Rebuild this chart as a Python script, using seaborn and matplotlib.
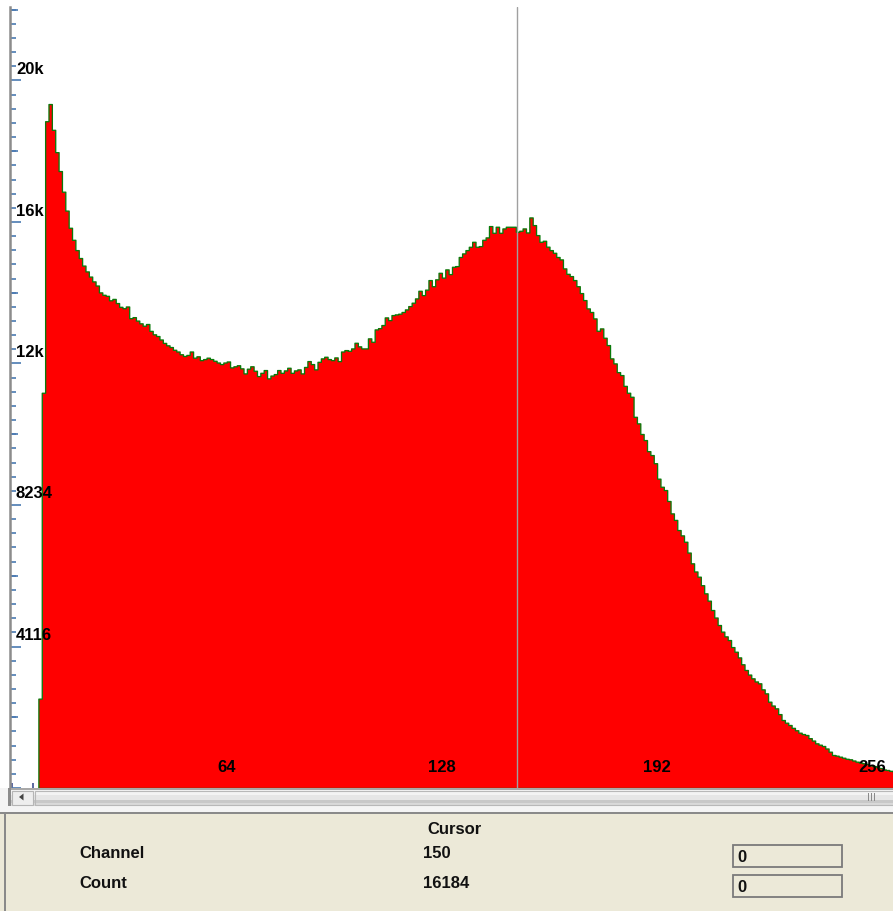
import numpy as np
import pandas as pd
import matplotlib
matplotlib.use("Agg")
import matplotlib.pyplot as plt
import matplotlib.transforms as mtransforms
from matplotlib.patches import Rectangle, Polygon
from matplotlib.ticker import MultipleLocator, FixedLocator
import seaborn as sns

# ---------------- data ----------------
first_channel = 8
counts = [
    2600, 11500, 19400, 19900, 19150, 18500, 17950, 17350, 16800, 16300,   # 8-17
    15950, 15650, 15420, 15200, 15030, 14880, 14740, 14620, 14420, 14350,  # 18-27
    14320, 14190, 14230, 14110, 14000, 13960, 14010, 13670, 13700, 13600,  # 28-37
    13520, 13450, 13500, 13300, 13200, 13150, 13050, 12950, 12880, 12830,  # 38-47
    12750, 12700, 12620, 12570, 12600, 12700, 12520, 12560, 12450, 12480,  # 48-57
    12520, 12480, 12430, 12380, 12334, 12380, 12410, 12238, 12270, 12300,  # 58-67
    12210, 12063, 12200, 12270, 12140, 11985, 12080, 12160, 11918, 12000,  # 68-77
    12043, 12160, 12080, 12150, 12227, 12080, 12150, 12180, 12063, 12250,  # 78-87
    12421, 12334, 12180, 12400, 12500, 12547, 12480, 12450, 12528, 12421,  # 88-97
    12700, 12741, 12721, 12790, 12954, 12850, 12790, 12790, 13082, 12983,  # 98-107
    13343, 13380, 13470, 13692, 13614, 13760, 13780, 13800, 13850, 13925,  # 108-117
    14021, 14120, 14245, 14467, 14341, 14500, 14778, 14600, 14800, 14990,  # 118-127
    14850, 15089, 14952, 15165, 15185, 15450, 15554, 15650, 15747, 15892,  # 128-137
    15747, 15767, 15950, 16020, 16349, 16154, 16330, 16154, 16281, 16330,  # 138-147
    16330, 16330, 16184, 16213, 16281, 16164, 16601, 16378, 16087, 15892,  # 148-157
    15922, 15750, 15650, 15572, 15450, 15380, 15118, 14960, 14894, 14778,  # 158-167
    14600, 14400, 14196, 13954, 13850, 13663, 13303, 13372, 13100, 12887,  # 168-177
    12500, 12354, 12100, 12014, 11700, 11500, 11383, 10800, 10609, 10300,  # 178-187
    10123, 9800, 9687, 9450, 9000, 8765, 8669, 8350, 7990, 7800,           # 188-197
    7505, 7350, 7165, 6850, 6537, 6300, 6148, 5900, 5664, 5450,            # 198-207
    5178, 4960, 4742, 4550, 4412, 4305, 4100, 3965, 3800, 3600,            # 208-217
    3433, 3300, 3191, 3100, 3046, 2870, 2754, 2511, 2400, 2318,            # 218-227
    2150, 1978, 1900, 1833, 1750, 1680, 1609, 1570, 1542, 1450,            # 228-237
    1380, 1300, 1260, 1222, 1150, 1056, 960, 940, 911, 880,                # 238-247
    850, 835, 800, 766, 740, 720, 698, 660, 640, 620,                      # 248-257
    580, 540, 524, 500, 480,                                               # 258-262
]
channels = np.arange(first_channel, first_channel + len(counts))

x_major_ticks = [64, 128, 192, 256]
x_tick_labels = ["64", "128", "192", "256"]
x_step = 64
y_step = 4117
y_tick_labels = ["4116", "8234", "12k", "16k", "20k"]

cursor_title = "Cursor"
cursor_fields = ["Channel", "Count"]
cursor_channel = 150
cursor_count = 16184
roi_values = ["0", "0"]

df = pd.DataFrame({"channel": channels, "count": counts})

# ---------------- style ----------------
sns.set_theme(style="white")
plt.rcParams["font.family"] = ["Liberation Sans", "DejaVu Sans"]

W, H = 893, 911
fig = plt.figure(figsize=(W / 100, H / 100), dpi=100)
fig.patch.set_facecolor("white")

ax_left_px, ax_top_px, ax_bot_px = 9.5, 7, 788
ax = fig.add_axes([ax_left_px / W, 1 - ax_bot_px / H,
                   1 - ax_left_px / W, (ax_bot_px - ax_top_px) / H])
ax.set_facecolor("white")

sns.histplot(data=df, x="channel", weights="count",
             binwidth=1, binrange=(first_channel, int(channels[-1]) + 1),
             element="step", fill=True, color="#ff0000",
             edgecolor="#0a7a0a", linewidth=0.95, alpha=1, ax=ax)

px_per_ch = 3.3625
x0_ch = (ax_left_px - 11.5) / px_per_ch
ax.set_xlim(x0_ch, x0_ch + (W - ax_left_px) / px_per_ch)
counts_per_px = y_step / 141.5
ax.set_ylim(0, (ax_bot_px - ax_top_px) * counts_per_px)

ax.set_xlabel("")
ax.set_ylabel("")
for s in ["top", "right", "bottom"]:
    ax.spines[s].set_visible(False)
ax.spines["left"].set_color("#8c8c8c")
ax.spines["left"].set_linewidth(1.8)

# cursor line
ax.axvline(cursor_channel + 0.25, color="#a0a0a0", lw=1.0, zorder=5)

# y ticks
ytick_col = "#4a7ab2"
ax.yaxis.set_major_locator(MultipleLocator(y_step))
ax.yaxis.set_minor_locator(MultipleLocator(y_step / 10))
ax.tick_params(axis="y", which="major", direction="in", length=7.8, width=1.2,
               color=ytick_col, left=True, labelleft=False)
ax.tick_params(axis="y", which="minor", direction="in", length=4.4, width=1.2,
               color=ytick_col, left=True)
sec_y = ax.secondary_yaxis("left")
sec_y.yaxis.set_major_locator(FixedLocator(np.arange(0.5, 6, 1) * y_step))
sec_y.tick_params(direction="in", length=6.0, width=1.2, color=ytick_col,
                  labelleft=False)
sec_y.spines["left"].set_visible(False)

# x ticks
xtick_col = "#2c3f88"
ax.xaxis.set_major_locator(FixedLocator(x_major_ticks))
ax.xaxis.set_minor_locator(MultipleLocator(x_step / 10))
ax.tick_params(axis="x", which="major", direction="in", length=7.2, width=1.1,
               color=xtick_col, bottom=True, labelbottom=False)
ax.tick_params(axis="x", which="minor", direction="in", length=3.6, width=1.1,
               color=xtick_col, bottom=True)
sec_x = ax.secondary_xaxis("bottom")
sec_x.xaxis.set_major_locator(FixedLocator(np.arange(0.5, 5, 1) * x_step))
sec_x.tick_params(direction="in", length=5.2, width=1.1, color=xtick_col,
                  labelbottom=False)
sec_x.spines["bottom"].set_visible(False)

# tick labels drawn inside plot
ylab_tr = mtransforms.offset_copy(ax.get_yaxis_transform(), fig=fig,
                                  x=6.5, y=11, units="dots")
for i, lab in enumerate(y_tick_labels):
    ax.text(0, (i + 1) * y_step, lab, transform=ylab_tr, ha="left", va="center",
            fontsize=12, fontweight="bold", color="black", zorder=6)
xlab_tr = mtransforms.offset_copy(ax.get_xaxis_transform(), fig=fig,
                                  x=0, y=20, units="dots")
for v, lab in zip(x_major_ticks, x_tick_labels):
    ax.text(v, 0, lab, transform=xlab_tr, ha="center", va="center",
            fontsize=12, fontweight="bold", color="black", zorder=6)

# ---------------- window decorations (pixel coords, top-left origin) ----------------
def rect(x0, y0, x1, y1, fc, ec="none", lw=0, z=1):
    fig.patches.append(Rectangle((x0 / W, 1 - y1 / H), (x1 - x0) / W, (y1 - y0) / H,
                                 transform=fig.transFigure, facecolor=fc,
                                 edgecolor=ec, linewidth=lw, zorder=z))

# scrollbar
rect(0, 788, W, 812, "#f4f4f4")
rect(ax_left_px - 1, 788, W, 790, "#a8a8a8")
rect(10, 790, W, 806, "#e6e6e6")
rect(10, 790, W, 795, "#f3f3f3")
rect(10, 800, W, 803, "#c8c8c8")
rect(10, 803, W, 806, "#d9d9d9")
rect(12, 791, 33, 805, "#eeeeee", ec="#b5b5b5", lw=0.8, z=2)
rect(35, 791, W + 5, 805, "none", ec="#b8b8b8", lw=0.8, z=2)
fig.patches.append(Polygon([[19 / W, 1 - 797 / H], [23.5 / W, 1 - 793.5 / H],
                            [23.5 / W, 1 - 800.5 / H]], closed=True,
                           transform=fig.transFigure, facecolor="#444444",
                           edgecolor="none", zorder=3))
for gx in (867.5, 870.5, 873.5):
    rect(gx, 793, gx + 1.2, 801, "#8a8a8a", z=3)
rect(ax_left_px - 1.2, 788, ax_left_px + 1.2, 806, "#8c8c8c", z=3)

# bottom panel
rect(0, 812, W, 814, "#8a8a8a")
rect(0, 814, W, H, "#ece9d8")
rect(4, 812, 6, H, "#8a8a8a", z=2)

def ftext(x, y, s, **kw):
    fig.text(x / W, 1 - y / H, s, va="center", fontsize=12, fontweight="bold",
             color="#111111", **kw)

ftext(454, 829, cursor_title, ha="center")
ftext(79, 854, cursor_fields[0], ha="left")
ftext(79, 884, cursor_fields[1], ha="left")
ftext(423, 854, str(cursor_channel), ha="left")
ftext(423, 884, str(cursor_count), ha="left")
for (yb0, yb1), val in zip([(845, 867), (875, 897)], roi_values):
    rect(733, yb0, 842, yb1, "#ece9d8", ec="#7a7a7a", lw=1.3, z=2)
    ftext(737, (yb0 + yb1) / 2 + 1, val, ha="left")

fig.savefig("out.png", dpi=100, facecolor="white")
